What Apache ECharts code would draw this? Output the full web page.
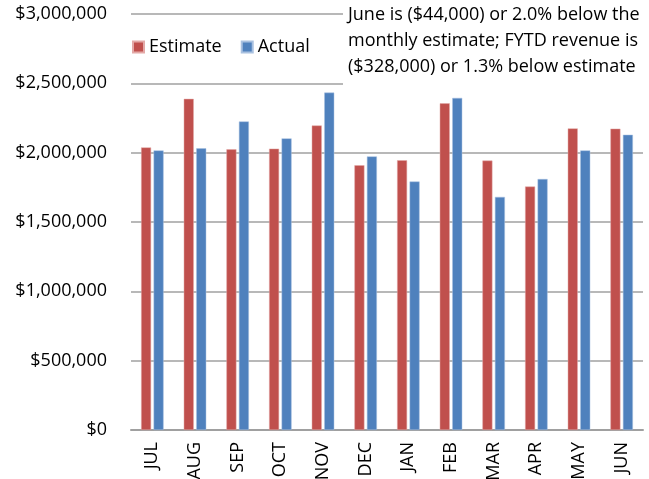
<!DOCTYPE html>
<html>
<head>
<meta charset="utf-8">
<script src="https://cdn.jsdelivr.net/npm/echarts@6/dist/echarts.min.js"></script>
<style>
html, body { margin: 0; padding: 0; background: #fff; }
#main { width: 649px; height: 479px; }
</style>
</head>
<body>
<div id="main"></div>
<script>
var months = ['JUL', 'AUG', 'SEP', 'OCT', 'NOV', 'DEC', 'JAN', 'FEB', 'MAR', 'APR', 'MAY', 'JUN'];
var estimate = [2038000, 2388000, 2024000, 2029000, 2196000, 1909000, 1945000, 2356000, 1943000, 1756000, 2175000, 2173000];
var actual = [2016000, 2031000, 2225000, 2103000, 2433000, 1973000, 1792000, 2395000, 1681000, 1810000, 2016000, 2129000];
var note = [
	'June is ($44,000) or 2.0% below the',
	'monthly estimate; FYTD revenue is',
	'($328,000) or 1.3% below estimate'
];

var font = 'Open Sans';
var myChart = echarts.init(document.getElementById('main'));
var option = {
	animation: false,
	textStyle: { fontFamily: font },
	grid: { left: 131, right: 6, top: 14, bottom: 49, containLabel: false, outerBoundsMode: 'none' },
	legend: {
		left: 127,
		top: 33,
		itemWidth: 11,
		itemHeight: 11,
		itemGap: 19,
		icon: 'rect',
		textStyle: { fontSize: 18, color: '#000', fontFamily: font },
		data: ['Estimate', 'Actual']
	},
	xAxis: {
		type: 'category',
		data: months,
		axisLine: { lineStyle: { color: '#a0a0a0', width: 2 } },
		axisTick: { show: false },
		axisLabel: { rotate: 90, margin: 12, fontSize: 18, color: '#000', fontFamily: font }
	},
	yAxis: {
		type: 'value',
		min: 0,
		max: 3000000,
		interval: 500000,
		axisLine: { show: false },
		axisTick: { show: false },
		axisLabel: {
			margin: 24,
			fontSize: 18,
			color: '#000',
			fontFamily: font,
			formatter: function (v) { return '$' + v.toLocaleString('en-US'); }
		},
		splitLine: { lineStyle: { color: '#a0a0a0', width: 1.5 } }
	},
	series: [{
		name: 'Estimate',
		type: 'bar',
		data: estimate,
		barWidth: 10,
		barGap: '25%',
		itemStyle: { color: '#c0504d', borderColor: '#e3a9a7', borderWidth: 0.5 }
	}, {
		name: 'Actual',
		type: 'bar',
		data: actual,
		barWidth: 10,
		itemStyle: { color: '#4f81bd', borderColor: '#a9c1e0', borderWidth: 0.5 }
	}],
	graphic: [{
		type: 'rect',
		left: 343,
		top: 0,
		shape: { width: 306, height: 88 },
		style: { fill: '#fff' },
		z: 100
	}, {
		type: 'text',
		left: 348,
		top: 2,
		z: 101,
		style: {
			text: note.join('\n'),
			font: '18px "Open Sans"',
			lineHeight: 26,
			fill: '#000'
		}
	}]
};
myChart.setOption(option);
</script>
</body>
</html>
